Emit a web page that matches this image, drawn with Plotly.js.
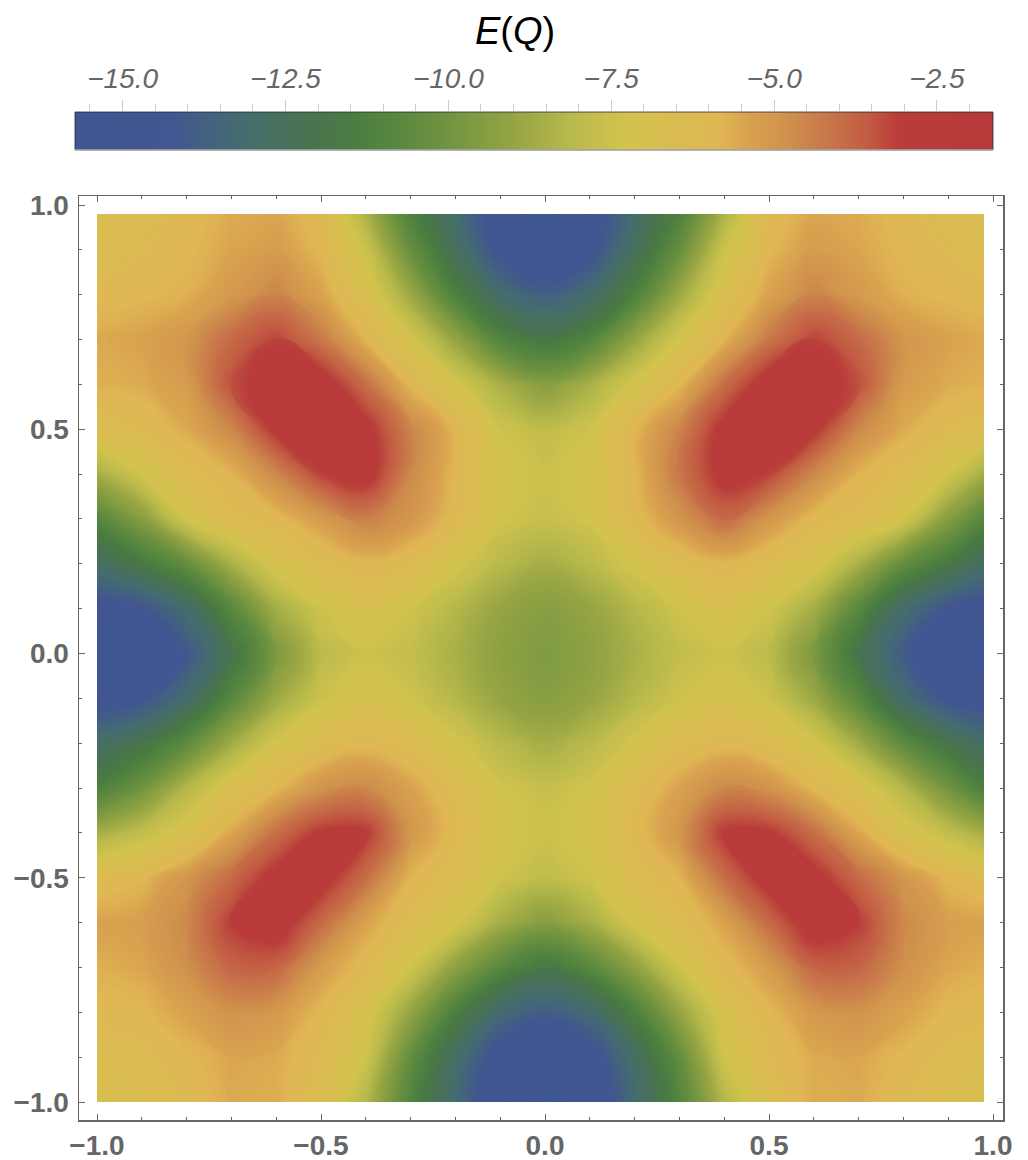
<!DOCTYPE html>
<html><head><meta charset="utf-8">
<script src="https://cdn.plot.ly/plotly-3.0.1.min.js"></script>
<style>html,body{margin:0;padding:0;background:#fff}</style></head>
<body><div id="chart" style="width:1028px;height:1160px"></div>
<script>
const xGrid = [-1,-0.9,-0.8,-0.7,-0.6,-0.5,-0.4,-0.3,-0.2,-0.1,0,0.1,0.2,0.3,0.4,0.5,0.6,0.7,0.8,0.9,0.98];
const yGrid = [-1,-0.9,-0.8,-0.7,-0.6,-0.5,-0.4,-0.3,-0.2,-0.1,0,0.1,0.2,0.3,0.4,0.5,0.6,0.7,0.8,0.9,0.98];
// E(Q), rows from y = -1 upward, columns from x = -1 rightward
const energy = [
[-6.8,-6.5,-6.1,-5.6,-5.6,-6.5,-8.2,-11,-13.2,-15.4,-16,-15.4,-13.2,-11,-8.2,-6.5,-5.6,-5.6,-6.1,-6.5,-6.8],
[-6.5,-6.3,-5.9,-5.5,-5.6,-6.2,-7.4,-10.4,-12.8,-14.8,-15.6,-14.8,-12.8,-10.4,-7.4,-6.2,-5.6,-5.5,-5.9,-6.3,-6.5],
[-6.0,-5.9,-5.4,-4.9,-5.1,-5.9,-6.9,-9.0,-11.3,-13.2,-13.9,-13.2,-11.3,-9.0,-6.9,-5.9,-5.1,-4.9,-5.4,-5.9,-6.0],
[-5.7,-5.5,-4.8,-3.8,-3.8,-5.2,-6.1,-7.4,-9.2,-10.8,-11.8,-10.8,-9.2,-7.4,-6.1,-5.2,-3.8,-3.8,-4.8,-5.5,-5.7],
[-5.4,-5.3,-4.6,-3.1,-2.6,-3.9,-5.4,-6.4,-7.2,-8.6,-9.4,-8.6,-7.2,-6.4,-5.4,-3.9,-2.6,-3.1,-4.6,-5.3,-5.4],
[-6.3,-5.9,-5.0,-3.9,-2.8,-2.7,-4.0,-5.8,-6.5,-7.4,-7.9,-7.4,-6.5,-5.8,-4.0,-2.7,-2.8,-3.9,-5.0,-5.9,-6.3],
[-8.6,-7.8,-6.9,-5.5,-4.0,-3.0,-3.0,-5.0,-6.1,-7.2,-7.5,-7.2,-6.1,-5.0,-3.0,-3.0,-4.0,-5.5,-6.9,-7.8,-8.6],
[-11.3,-10,-8.2,-6.8,-5.9,-4.9,-4.6,-5.4,-6.4,-7.3,-7.7,-7.3,-6.4,-5.4,-4.6,-4.9,-5.9,-6.8,-8.2,-10,-11.3],
[-12.9,-12,-10.6,-8.7,-7.2,-6.4,-6.0,-6.4,-7.2,-8.1,-8.6,-8.1,-7.2,-6.4,-6.0,-6.4,-7.2,-8.7,-10.6,-12,-12.9],
[-14.7,-14.4,-13,-10.8,-8.8,-7.5,-7.0,-7.4,-8.2,-9.0,-9.4,-9.0,-8.2,-7.4,-7.0,-7.5,-8.8,-10.8,-13,-14.4,-14.7],
[-15.5,-15.2,-14.2,-12,-9.7,-8.0,-7.5,-7.8,-8.5,-9.2,-9.6,-9.2,-8.5,-7.8,-7.5,-8.0,-9.7,-12,-14,-15.2,-15.5],
[-14.6,-14.3,-13,-10.8,-8.6,-7.4,-6.9,-7.4,-8.2,-9.0,-9.4,-9.0,-8.2,-7.4,-6.9,-7.4,-8.6,-10.8,-13,-14.3,-14.6],
[-12.8,-11.7,-10.4,-8.5,-7.0,-6.4,-5.9,-6.3,-7.2,-8.1,-8.6,-8.1,-7.2,-6.3,-5.9,-6.4,-7.0,-8.5,-10.4,-11.7,-12.8],
[-10.9,-9.4,-7.3,-6.3,-6.0,-5.2,-4.4,-5.0,-6.1,-7.3,-7.7,-7.3,-6.1,-5.0,-3.9,-5.0,-6.0,-6.3,-7.3,-9.4,-10.9],
[-8.6,-7.3,-6.4,-5.8,-4.6,-3.2,-2.7,-4.6,-5.9,-7.2,-7.5,-7.2,-5.9,-4.2,-2.8,-3.2,-4.6,-5.8,-6.4,-7.3,-8.6],
[-6.5,-6.2,-5.6,-4.6,-2.9,-2.5,-2.8,-4.5,-5.9,-7.4,-7.9,-7.4,-5.9,-4.5,-2.8,-2.5,-2.9,-4.6,-5.6,-6.2,-6.5],
[-5.7,-5.6,-5.2,-3.4,-2.6,-2.6,-4.0,-5.9,-7.2,-8.5,-9.4,-8.5,-7.2,-5.9,-4.0,-2.6,-2.6,-3.4,-5.2,-5.6,-5.7],
[-5.6,-5.4,-5.0,-3.9,-3.2,-4.2,-5.8,-7.2,-9,-11,-11.8,-11,-9,-7.2,-5.8,-4.2,-3.2,-3.9,-5.0,-5.4,-5.6],
[-6.0,-5.9,-5.7,-5.1,-4.5,-5.4,-6.7,-8.8,-11.2,-13,-13.8,-13,-11.2,-8.8,-6.7,-5.4,-4.5,-5.1,-5.7,-5.9,-6.0],
[-6.5,-6.2,-5.9,-5.5,-5.2,-5.9,-7.5,-10.3,-12.5,-14.6,-15.6,-14.6,-12.5,-10.3,-7.5,-5.9,-5.2,-5.5,-5.9,-6.2,-6.5],
[-6.6,-6.4,-6.0,-5.6,-5.5,-6.1,-8.4,-11.2,-13,-15,-15.9,-15,-13,-11.2,-8.4,-6.1,-5.5,-5.6,-6.0,-6.4,-6.6]
];
const legendValues = [-16,-15.5,-15,-14.5,-14,-13.5,-13,-12.5,-12,-11.5,-11,-10.5,-10,-9.5,-9,-8.5,-8,-7.5,-7,-6.5,-6,-5.5,-5,-4.5,-4,-3.5,-3,-2.5,-2,-1.5];
const stopValues = [-16,-14.28,-13.05,-12.1,-11.4,-10.2,-8.96,-8.1,-7.3,-5.85,-5.45,-4.83,-4.17,-3.55,-3.1,-1.5];
const stopColors = ['#3E5692','#425691','#456E6C','#4A7350','#4A7E40','#6A9140','#97A544','#B9BA4C','#D2C34E','#E0B754','#D9A34F','#D0924D','#C8764A','#C25A42','#B93C3A','#B83B3A'];
const axisTicks = [-1,-0.5,0,0.5,1];
const legendTicks = [-15,-12.5,-10,-7.5,-5,-2.5];

const zMin = -16, zMax = -1.5;
const colorscale = stopValues.map((v,i)=>[(v-zMin)/(zMax-zMin), stopColors[i]]);
const W = 1028, H = 1160;
const gray = '#666666';
const font = 'Liberation Sans, Arial, sans-serif';

const plotAxis = {
  range:[-1.0402,1.0223], tickmode:'array', tickvals:axisTicks, tickformat:'.1f',
  ticks:'inside', ticklen:6, tickwidth:1, tickcolor:gray,
  minor:{dtick:0.1, ticks:'inside', ticklen:3, tickwidth:1, tickcolor:gray},
  showline:true, linecolor:gray, linewidth:1.5, mirror:'allticks',
  showgrid:false, zeroline:false,
  tickfont:{family:font, size:28, color:gray, weight:'bold'}
};

const data = [
 {type:'contour', x:xGrid, y:yGrid, z:energy, zmin:zMin, zmax:zMax, zauto:false, autocontour:false,
  contours:{coloring:'fill', start:-16, end:-1.5, size:0.05, showlines:false},
  line:{width:0, smoothing:1.3}, colorscale, showscale:false, xaxis:'x', yaxis:'y', hoverinfo:'skip'},
 {type:'heatmap', x:legendValues, y:[0,1], z:[legendValues,legendValues], zsmooth:'best', zmin:zMin, zmax:zMax,
  colorscale, showscale:false, xaxis:'x2', yaxis:'y2', hoverinfo:'skip'}
];
const layout = {
  width:W, height:H, margin:{l:0,r:0,t:0,b:0}, paper_bgcolor:'#fff', plot_bgcolor:'#fff', showlegend:false,
  title:{text:'<i>E</i>(<i>Q</i>)', x:515/W, xanchor:'center', y:1-31/H, yanchor:'middle',
         font:{family:font,size:38,color:'#000'}},
  xaxis:Object.assign({}, plotAxis, {domain:[79/W,1003/W], anchor:'y', ticklabelstandoff:0}),
  yaxis:Object.assign({}, plotAxis, {domain:[(H-1120)/H,(H-196)/H], anchor:'x', range:[-1.0401,1.0201], ticklabelstandoff:3}),
  xaxis2:{domain:[75/W,993/W], range:[-15.73,-1.64], anchor:'y2', side:'top',
    tickmode:'array', tickvals:legendTicks, tickformat:'.1f',
    ticks:'outside', ticklen:11, tickwidth:1, tickcolor:'#cccccc',
    minor:{dtick:0.5, ticks:'outside', ticklen:7, tickwidth:1, tickcolor:'#cccccc'},
    showgrid:false, zeroline:false, showline:false, ticklabelstandoff:1,
    tickfont:{family:font,size:28,color:gray,style:'italic'}},
  yaxis2:{domain:[(H-150)/H,(H-112)/H], range:[0,1], anchor:'x2', visible:false},
  shapes:[
    {type:'rect', xref:'paper', yref:'paper', x0:75/W, x1:993/W, y0:(H-150)/H, y1:(H-112)/H, line:{color:'rgba(30,30,40,0.75)',width:1}},
    {type:'line', xref:'paper', yref:'paper', x0:75/W, x1:993/W, y0:(H-150)/H, y1:(H-150)/H, line:{color:'#b5b5b5',width:1.5}}
  ]
};
Plotly.newPlot('chart', data, layout, {displayModeBar:false, staticPlot:true});
</script></body></html>
